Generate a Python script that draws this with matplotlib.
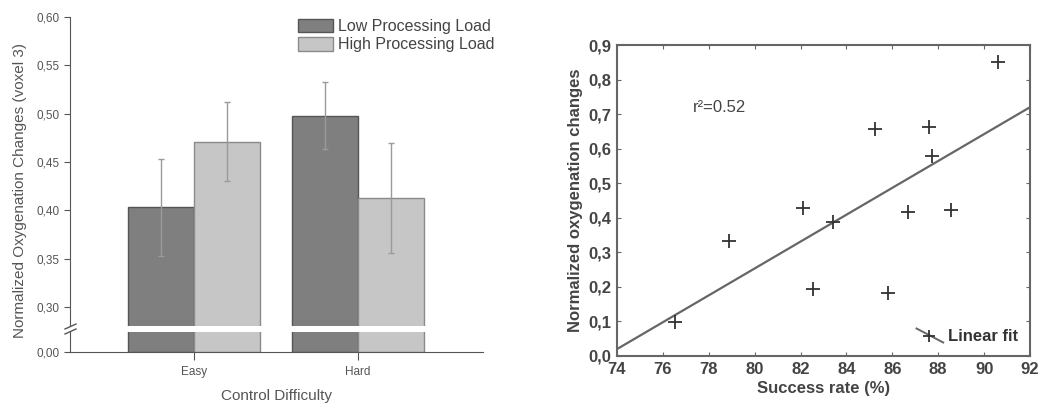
import numpy as np
import matplotlib
matplotlib.use("Agg")
import matplotlib.pyplot as plt
from matplotlib.legend_handler import HandlerLine2D
from matplotlib.lines import Line2D
from matplotlib.ticker import FuncFormatter

plt.rcParams['font.family'] = ['Liberation Sans', 'DejaVu Sans']

# --- left panel data ---
conditions = ['Easy', 'Hard']
low_load = [0.403, 0.498]
low_err = [0.050, 0.035]
high_load = [0.471, 0.413]
high_err = [0.041, 0.057]

# --- right panel data ---
success_rate = [76.54, 78.86, 82.10, 82.53, 83.40, 85.25, 85.79, 86.67, 87.61, 87.71, 88.56, 90.59]
oxy_change = [0.097, 0.334, 0.429, 0.194, 0.389, 0.656, 0.183, 0.416, 0.664, 0.579, 0.423, 0.852]
fit_x = [74, 92]
fit_y = [0.020, 0.720]
r2_text = 'r²=0.52'

W, H = 1061, 405
fig = plt.figure(figsize=(W / 100, H / 100), dpi=100)

def fx(px):
    return px / W

def fy(px):
    return 1 - px / H

txt = '#555555'
edge = '#555555'
dark = '#7f7f7f'
light = '#c6c6c6'
comma = FuncFormatter(lambda v, p: ('%.2f' % v).replace('.', ','))

# two stacked axes make the broken y axis
ax_top = fig.add_axes([fx(70), fy(326), fx(483 - 70), fy(17) - fy(326)])
ax_bot = fig.add_axes([fx(70), fy(352), fx(483 - 70), fy(332) - fy(352)], sharex=ax_top)

x = np.arange(len(conditions))
bw = 0.405
for ax in (ax_top, ax_bot):
    ax.bar(x - bw / 2, low_load, bw, color=dark, edgecolor=edge, linewidth=1)
    ax.bar(x + bw / 2, high_load, bw, color=light, edgecolor='#8a8a8a', linewidth=1)
    for s in ('top', 'right'):
        ax.spines[s].set_visible(False)
    ax.spines['left'].set_color(edge)
    ax.spines['bottom'].set_color(edge)
    ax.tick_params(colors=edge, labelcolor=txt, labelsize=8.5, length=4)

ax_top.errorbar(x - bw / 2, low_load, yerr=low_err, fmt='none', ecolor='#9a9a9a',
                elinewidth=1, capsize=2.5, capthick=1)
ax_top.errorbar(x + bw / 2, high_load, yerr=high_err, fmt='none', ecolor='#9a9a9a',
                elinewidth=1, capsize=2.5, capthick=1)

ax_top.set_ylim(0.2803, 0.60)
ax_top.set_yticks([0.30, 0.35, 0.40, 0.45, 0.50, 0.55, 0.60])
ax_top.yaxis.set_major_formatter(comma)
ax_top.spines['bottom'].set_visible(False)
ax_top.tick_params(axis='x', bottom=False, labelbottom=False)

ax_bot.set_ylim(0, 0.0207)
ax_bot.set_yticks([0.0])
ax_bot.yaxis.set_major_formatter(comma)
ax_bot.set_xlim(-0.756, 1.762)
ax_bot.set_xticks(x)
ax_bot.set_xticklabels(conditions)
ax_bot.tick_params(axis='x', length=6, pad=4)
ax_bot.set_xlabel('Control Difficulty', fontsize=11, color=txt, labelpad=8)

# break marks on the y axis
for dy in (0.0, 5.0):
    fig.add_artist(Line2D([fx(65), fx(76)], [fy(334 - dy), fy(329 - dy)],
                          color=edge, linewidth=1))

fig.text(fx(20), fy(190), 'Normalized Oxygenation Changes (voxel 3)', rotation=90,
         ha='center', va='center', fontsize=11, color=txt)

leg = ax_top.legend(['Low Processing Load', 'High Processing Load'], loc='upper left',
                    bbox_to_anchor=(fx(298), fy(19)), bbox_transform=fig.transFigure,
                    frameon=False, fontsize=11.5, handlelength=2.2, handleheight=0.9,
                    handletextpad=0.3, labelspacing=0.2, borderpad=0, borderaxespad=0)
for t in leg.get_texts():
    t.set_color('#444444')

# --- right panel ---
ax2 = fig.add_axes([fx(617), fy(356), fx(1030 - 617), fy(45) - fy(356)])
frame = '#666666'
ax2.scatter(success_rate, oxy_change, marker='+', s=90, color='#333333', linewidths=1.3, zorder=3)
ax2.plot(fit_x, fit_y, color=frame, linewidth=1.6)
ax2.set_xlim(74, 92)
ax2.set_ylim(0, 0.9)
ax2.set_xticks(np.arange(74, 93, 2))
ax2.set_yticks(np.arange(0, 0.91, 0.1))
ax2.yaxis.set_major_formatter(FuncFormatter(lambda v, p: ('%.1f' % v).replace('.', ',')))
for s in ax2.spines.values():
    s.set_color(frame)
    s.set_linewidth(1.5)
ax2.tick_params(direction='in', top=True, right=True, length=3, colors=frame,
                labelcolor='#444444', labelsize=12, pad=4)
for lab in ax2.get_xticklabels() + ax2.get_yticklabels():
    lab.set_fontweight('bold')
ax2.set_xlabel('Success rate (%)', fontsize=12, fontweight='bold', color='#444444', labelpad=3)
ax2.set_ylabel('Normalized oxygenation changes', fontsize=12, fontweight='bold',
               color='#444444', labelpad=4)
ax2.text(77.3, 0.72, r2_text, fontsize=12, color='#444444', va='center')


class DiagonalHandler(HandlerLine2D):
    def create_artists(self, legend, orig_handle, xdescent, ydescent, width, height,
                       fontsize, trans):
        ln = Line2D([0, width], [height * 1.1, -height * 0.1], color=frame, linewidth=1.4,
                    transform=trans)
        mk = Line2D([width * 0.45], [height * 0.5], marker='+', markersize=9,
                    markeredgewidth=1.3, color='#333333', linestyle='none', transform=trans)
        return [ln, mk]


proxy = Line2D([], [], color=frame)
leg2 = ax2.legend([proxy], ['Linear fit'], loc='lower right', frameon=False,
                  handler_map={proxy: DiagonalHandler()}, handlelength=1.6,
                  handletextpad=0.3, borderaxespad=0.3,
                  prop={'size': 12, 'weight': 'bold'})
for t in leg2.get_texts():
    t.set_color('#333333')

fig.savefig('out.png', dpi=100)
